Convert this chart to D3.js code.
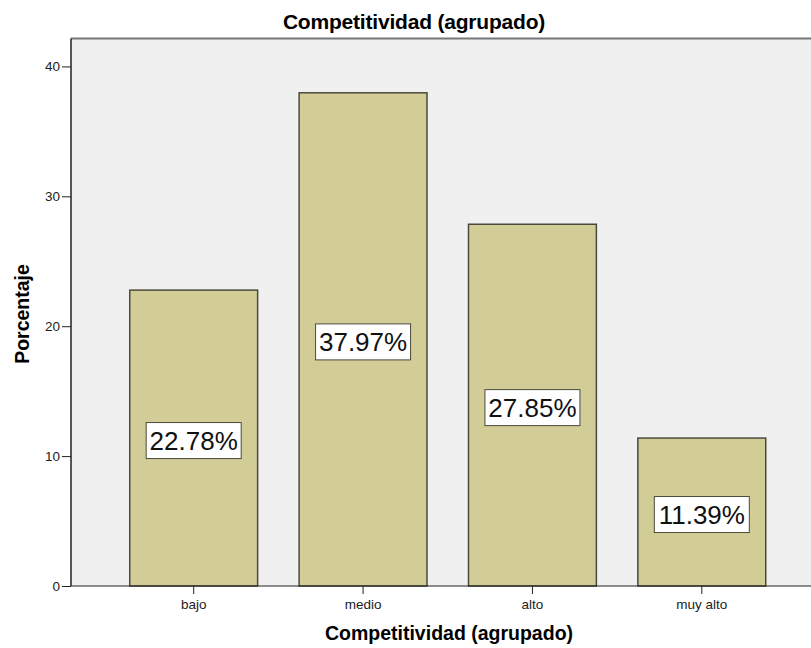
<!DOCTYPE html>
<html lang="es">
<head>
<meta charset="utf-8">
<title>Competitividad (agrupado)</title>
<script src="https://d3js.org/d3.v7.min.js"></script>
<style>
  body { margin: 0; background: #fff; }
  text { font-family: "Liberation Sans", Arial, sans-serif; }
  .axis path, .axis line { stroke: #222; }
  .axis text { font-size: 13.5px; fill: #222; }
</style>
</head>
<body>
<svg id="chart" width="811" height="648"></svg>
<script>
var categories = ["bajo", "medio", "alto", "muy alto"];
var percentages = [22.78, 37.97, 27.85, 11.39];
var yTicks = [0, 10, 20, 30, 40];

var svg = d3.select("#chart"),
    margin = {top: 38.5, right: 0, bottom: 62, left: 71},
    width = +svg.attr("width") - margin.left - margin.right,
    height = +svg.attr("height") - margin.top - margin.bottom;

var x = d3.scaleBand()
    .domain(categories)
    .range([38, 715.5])
    .paddingInner(0.245)
    .paddingOuter(0.1225);

var y = d3.scaleLinear().domain([0, 42.15]).range([height, 0]);

var g = svg.append("g")
    .attr("transform", "translate(" + margin.left + "," + margin.top + ")");

// plot background
g.append("rect")
    .attr("width", width + 2)
    .attr("height", height)
    .attr("fill", "#f0f0f0");
g.append("line")
    .attr("x1", 0).attr("x2", width + 2)
    .attr("y1", 0).attr("y2", 0)
    .attr("stroke", "#777").attr("stroke-width", 2);

// bars
g.selectAll(".bar")
  .data(percentages)
  .enter().append("rect")
    .attr("class", "bar")
    .attr("x", function(d, i) { return x(categories[i]); })
    .attr("y", function(d) { return y(d); })
    .attr("width", x.bandwidth())
    .attr("height", function(d) { return height - y(d); })
    .attr("fill", "#d2cd96")
    .attr("stroke", "#4a4a3c")
    .attr("stroke-width", 1.5);

// axes
g.append("g")
    .attr("class", "axis axis--x")
    .attr("transform", "translate(0," + height + ")")
    .call(d3.axisBottom(x).tickSize(8).tickSizeOuter(0).tickPadding(5));
g.select(".axis--x path").attr("d", "M0,0H" + (width + 2));

g.append("g")
    .attr("class", "axis axis--y")
    .call(d3.axisLeft(y).tickValues(yTicks).tickSize(9).tickSizeOuter(0).tickPadding(2));
g.select(".axis--y path").attr("d", "M0,0V" + height).attr("stroke-width", 1.5);

// value labels
var labels = g.selectAll(".lbl")
  .data(percentages)
  .enter().append("g")
    .attr("class", "lbl")
    .attr("transform", function(d, i) {
      return "translate(" + (x(categories[i]) + x.bandwidth() / 2) + "," + ((y(d) + height) / 2 + 2.5) + ")";
    });
labels.append("rect")
    .attr("x", -47.5).attr("y", -18)
    .attr("width", 95).attr("height", 36)
    .attr("fill", "#fff")
    .attr("stroke", "#4a4a3c")
    .attr("stroke-width", 1);
labels.append("text")
    .attr("text-anchor", "middle")
    .attr("dy", "0.36em")
    .style("font-size", "26px")
    .attr("fill", "#111")
    .text(function(d) { return d.toFixed(2) + "%"; });

// titles
svg.append("text")
    .attr("x", 414).attr("y", 29)
    .attr("text-anchor", "middle")
    .style("font-size", "21px").style("font-weight", "bold")
    .style("letter-spacing", "-0.2px")
    .text("Competitividad (agrupado)");

svg.append("text")
    .attr("x", 449).attr("y", 640)
    .attr("text-anchor", "middle")
    .style("font-size", "19.5px").style("font-weight", "bold")
    .text("Competitividad (agrupado)");

svg.append("text")
    .attr("transform", "translate(29,314) rotate(-90)")
    .attr("text-anchor", "middle")
    .style("font-size", "19.5px").style("font-weight", "bold")
    .text("Porcentaje");
</script>
</body>
</html>
